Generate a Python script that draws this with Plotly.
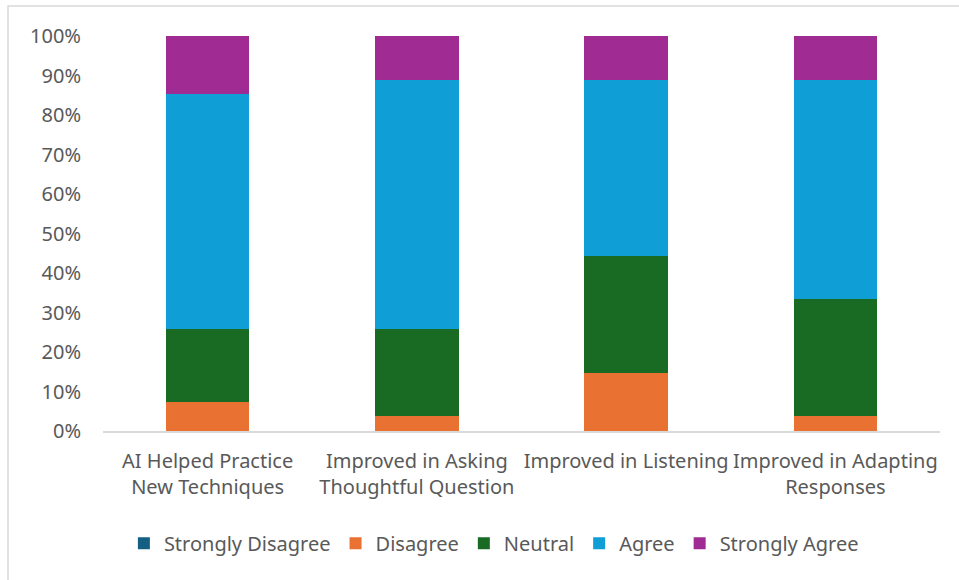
import plotly.graph_objects as go

# Survey statements (x categories)
categories = [
    "AI Helped Practice<br>New Techniques",
    "Improved in Asking<br>Thoughtful Question",
    "Improved in Listening",
    "Improved in Adapting<br>Responses",
]

# Share of responses per statement (%)
strongly_disagree = [0.0, 0.0, 0.0, 0.0]
disagree = [7.4, 3.7, 14.8, 3.7]
neutral = [18.5, 22.2, 29.6, 29.6]
agree = [59.3, 63.0, 44.5, 55.6]
strongly_agree = [14.8, 11.1, 11.1, 11.1]

series_names = ["Strongly Disagree", "Disagree", "Neutral", "Agree", "Strongly Agree"]
series_values = [strongly_disagree, disagree, neutral, agree, strongly_agree]
series_colors = ["#156082", "#E97132", "#196B24", "#0F9ED5", "#A02B93"]

y_tick_vals = [0, 10, 20, 30, 40, 50, 60, 70, 80, 90, 100]
y_tick_text = ["0%", "10%", "20%", "30%", "40%", "50%", "60%", "70%", "80%", "90%", "100%"]

FONT = "Noto Sans"
TEXT_COLOR = "#595959"

W, H = 959, 580
ML, MR, MT, MB = 103, 19, 36, 149

fig = go.Figure()
for name, vals, col in zip(series_names, series_values, series_colors):
    fig.add_trace(go.Bar(
        name=name, x=categories, y=vals,
        marker=dict(color=col, line=dict(width=0)),
    ))

pw = W - ML - MR
ph = H - MT - MB
# light frame around the whole chart
fig.add_shape(
    type="rect", xref="paper", yref="paper",
    x0=(8 - ML) / pw, x1=(W + 5 - ML) / pw,
    y0=-(H + 5 - MT - ph) / ph, y1=1 + (MT - 6) / ph,
    line=dict(color="#d9d9d9", width=1.5), fillcolor="rgba(0,0,0,0)", layer="below",
)

fig.update_layout(
    width=W, height=H,
    margin=dict(l=ML, r=MR, t=MT, b=MB),
    barmode="stack", bargap=0.6,
    plot_bgcolor="white", paper_bgcolor="white",
    font=dict(family=FONT, size=20, color=TEXT_COLOR),
    legend=dict(
        orientation="h", x=0.467, xanchor="center", y=-0.235, yanchor="top",
        font=dict(size=20, color=TEXT_COLOR), traceorder="normal",
        itemwidth=30,
    ),
    xaxis=dict(
        showline=True, linecolor="#d9d9d9", linewidth=1.5,
        showgrid=False, ticks="", tickfont=dict(size=20, color=TEXT_COLOR),
        ticklabelstandoff=11,
    ),
    yaxis=dict(
        range=[0, 100], tickmode="array", tickvals=y_tick_vals, ticktext=y_tick_text,
        showgrid=False, zeroline=False, showline=False, ticks="",
        tickfont=dict(size=20, color=TEXT_COLOR), ticklabelstandoff=21,
    ),
)

fig.write_html("out.html")
